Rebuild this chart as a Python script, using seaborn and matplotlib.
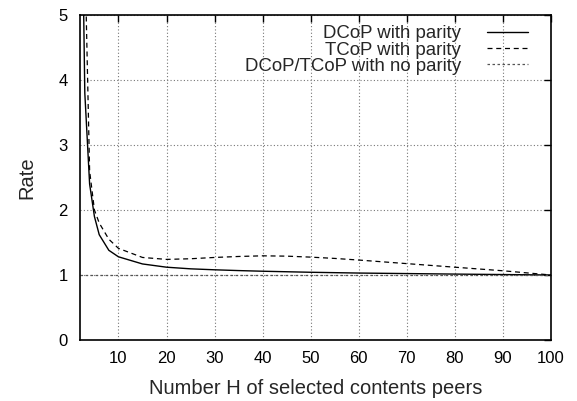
import numpy as np
import pandas as pd
import seaborn as sns
import matplotlib
matplotlib.use('Agg')
import matplotlib.pyplot as plt

# values
h_values = [2, 3, 4, 5, 6, 8, 10, 15, 20, 25, 30, 35, 40, 45, 50, 55, 60, 70, 80, 90, 100]
dcop_rate = [9.0, 3.8, 2.4, 1.9, 1.62, 1.38, 1.28, 1.17, 1.12, 1.095, 1.08, 1.068, 1.058,
             1.05, 1.042, 1.036, 1.03, 1.022, 1.014, 1.007, 1.0]
tcop_rate = [12.0, 6.0, 2.6, 2.0, 1.8, 1.55, 1.41, 1.27, 1.24, 1.25, 1.27, 1.285, 1.295,
             1.29, 1.275, 1.255, 1.23, 1.175, 1.12, 1.065, 1.0]
noparity_h = [2, 100]
noparity_rate = [1.0, 1.0]

x_ticks = [10, 20, 30, 40, 50, 60, 70, 80, 90, 100]
y_ticks = [0, 1, 2, 3, 4, 5]

sns.set_style('white')
plt.rcParams['font.family'] = ['Liberation Sans', 'DejaVu Sans']

fig = plt.figure(figsize=(5.77, 4.01), dpi=100)
ax = fig.add_axes([80/577, 1-340/401, (551-80)/577, (340-15)/401])

sns.lineplot(x=h_values, y=dcop_rate, ax=ax, color='black', linewidth=1.0,
             label='DCoP with parity')
sns.lineplot(x=h_values, y=tcop_rate, ax=ax, color='black', linewidth=0.9,
             linestyle=(0, (4, 3)), label='TCoP with parity')
sns.lineplot(x=noparity_h, y=noparity_rate, ax=ax, color='#555555', linewidth=0.9,
             linestyle=(0, (2, 2)), label='DCoP/TCoP with no parity')

ax.set_xlim(2, 100)
ax.set_ylim(0, 5)
ax.set_xticks(x_ticks)
ax.set_yticks(y_ticks)
ax.grid(True, color='#777777', linestyle=(0, (1, 2)), linewidth=0.8)
ax.tick_params(direction='in', length=5, width=1, top=True, right=True,
               labelsize=12, colors='black')
ax.tick_params(axis='y', pad=9)
ax.tick_params(axis='x', pad=8)
for s in ax.spines.values():
    s.set_color('black')
    s.set_linewidth(1.2)

ax.set_xlabel('Number H of selected contents peers', fontsize=14.5, labelpad=9)
ax.set_ylabel('Rate', fontsize=14.5, labelpad=16)

leg = ax.legend(loc='upper right', bbox_to_anchor=(0.951, 0.968), frameon=False,
                fontsize=13.4, markerfirst=False, handlelength=2.2, labelspacing=-0.05,
                handletextpad=1.4, borderaxespad=0, borderpad=0)
for col in leg._legend_handle_box.get_children():
    col.align = 'right'

fig.savefig('out.png', dpi=100)
